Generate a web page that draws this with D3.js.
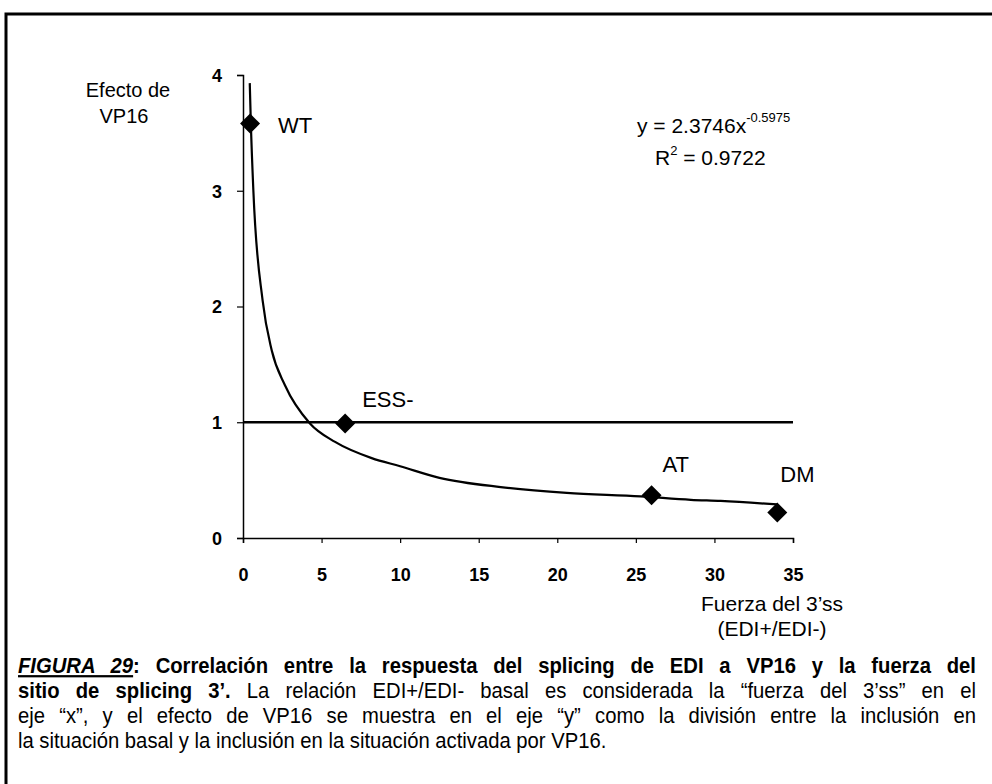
<!DOCTYPE html>
<html>
<head>
<meta charset="utf-8">
<script src="https://cdn.jsdelivr.net/npm/d3@7"></script>
<style>
  body { margin: 0; background: #fff; }
  svg { display: block; font-family: Arial, "Liberation Sans", sans-serif; }
</style>
</head>
<body>
<svg width="992" height="784"></svg>
<script>
// data
const pointNames = ["WT", "ESS-", "AT", "DM"];
const pointX = [0.45, 6.5, 26.0, 34.0];
const pointY = [3.58, 0.99, 0.37, 0.22];

// power trendline
const trendX = [0.43, 0.5, 0.66, 1.25, 1.83, 2.67, 4.26, 5.86, 8.19, 10.0, 12.5, 16.4, 20.6, 25.3, 28.5, 30.4, 34.0];
const trendY = [3.93, 3.58, 3.0, 2.05, 1.62, 1.32, 0.99, 0.83, 0.69, 0.62, 0.52, 0.44, 0.39, 0.36, 0.33, 0.32, 0.29];

// reference line y = 1
const refX = [0, 35];
const refY = [1, 1];

const xTicks = [0, 5, 10, 15, 20, 25, 30, 35];
const yTicks = [0, 1, 2, 3, 4];

const svg = d3.select("svg");

const x = d3.scaleLinear().domain([0, 35]).range([243, 793]);
const y = d3.scaleLinear().domain([0, 4]).range([538, 75]);

// outer frame (only top and left edges visible)
svg.append("path")
    .attr("d", "M6,800 V14 H1000")
    .attr("fill", "none")
    .attr("stroke", "#000")
    .attr("stroke-width", 3);

// axes
const xAxis = svg.append("g")
    .attr("transform", `translate(0,${y(0)})`)
    .call(d3.axisBottom(x).tickValues(xTicks).tickSize(5).tickPadding(25));
const yAxis = svg.append("g")
    .attr("transform", `translate(${x(0)},0)`)
    .call(d3.axisLeft(y).tickValues(yTicks).tickFormat(d3.format("d")).tickSize(6).tickPadding(15));

[xAxis, yAxis].forEach(a => {
    a.select(".domain").attr("stroke-width", 1.5);
    a.selectAll(".tick line").attr("stroke-width", 1.2);
    a.selectAll("text")
        .attr("font-family", "Arial, 'Liberation Sans', sans-serif")
        .style("font-size", "18px")
        .style("font-weight", "bold")
        .attr("fill", "#000");
});
yAxis.selectAll("text").attr("dy", "0.35em");

// y = 1 line
svg.append("path")
    .datum(refX.map((v, i) => [v, refY[i]]))
    .attr("fill", "none")
    .attr("stroke", "#000")
    .attr("stroke-width", 2.5)
    .attr("d", d3.line().x(d => x(d[0])).y(d => y(d[1])));

// trendline
svg.append("path")
    .datum(trendX.map((v, i) => [v, trendY[i]]))
    .attr("fill", "none")
    .attr("stroke", "#000")
    .attr("stroke-width", 2.2)
    .attr("d", d3.line().curve(d3.curveMonotoneX).x(d => x(d[0])).y(d => y(d[1])));

// markers
svg.selectAll(".pt")
    .data(pointX)
    .enter().append("path")
    .attr("class", "pt")
    .attr("d", d3.symbol(d3.symbolSquare, 200))
    .attr("transform", (d, i) => `translate(${x(d)},${y(pointY[i])}) rotate(45)`)
    .attr("fill", "#000");

// point labels (offsets as placed in the figure)
const labelDx = [28, 17, 11, 3];
const labelDy = [9, -16, -23, -31];
svg.selectAll(".lbl")
    .data(pointNames)
    .enter().append("text")
    .attr("class", "lbl")
    .attr("x", (d, i) => x(pointX[i]) + labelDx[i])
    .attr("y", (d, i) => y(pointY[i]) + labelDy[i])
    .style("font-size", "22px")
    .text(d => d);

// axis titles
const yTitle = svg.append("text")
    .attr("text-anchor", "middle")
    .style("font-size", "20px");
yTitle.append("tspan").attr("x", 128).attr("y", 97).text("Efecto de");
yTitle.append("tspan").attr("x", 124).attr("y", 123).text("VP16");

const xTitle = svg.append("text")
    .attr("text-anchor", "middle")
    .style("font-size", "21px");
xTitle.append("tspan").attr("x", 772).attr("y", 611).text("Fuerza del 3’ss");
xTitle.append("tspan").attr("x", 772).attr("y", 636).text("(EDI+/EDI-)");

// equation
const eq = svg.append("text")
    .attr("x", 637).attr("y", 133)
    .style("font-size", "21px");
eq.append("tspan").text("y = 2.3746x");
eq.append("tspan").attr("dy", -11).style("font-size", "13px").text("-0.5975");

const r2 = svg.append("text")
    .attr("x", 655).attr("y", 165)
    .style("font-size", "21px");
r2.append("tspan").text("R");
r2.append("tspan").attr("dy", -10).style("font-size", "13px").text("2");
r2.append("tspan").attr("dy", 10).text(" = 0.9722");

// caption: narrow-looking type, justified except the last line
const capLeft = 18, capRight = 976, capSx = 0.9;
const capLines = [
    [{t: "FIGURA 29", b: true, i: true, u: true}, {t: ": ", b: true}, {t: "Correlación entre la respuesta del splicing de EDI a VP16 y la fuerza del", b: true}],
    [{t: "sitio de splicing 3’.", b: true}, {t: " La relación EDI+/EDI- basal es considerada la “fuerza del 3’ss” en el"}],
    [{t: "eje “x”, y el efecto de VP16 se muestra en el eje “y” como la división entre la inclusión en"}],
    [{t: "la situación basal y la inclusión en la situación activada por VP16."}]
];
const capY = [673, 698, 723, 748];

const cap = svg.append("g")
    .attr("transform", `translate(${capLeft},0) scale(${capSx},1)`);

capLines.forEach((parts, li) => {
    const t = cap.append("text")
        .attr("x", 0)
        .attr("y", capY[li])
        .style("font-size", "22.5px");
    parts.forEach(p => {
        t.append("tspan")
            .style("font-weight", p.b ? "bold" : "normal")
            .style("font-style", p.i ? "italic" : "normal")
            .style("text-decoration", p.u ? "underline" : "none")
            .text(p.t);
    });
    if (li < 3) {
        const w = t.node().getComputedTextLength();
        const spaces = parts.map(p => p.t).join("").split(" ").length - 1;
        t.style("word-spacing", (((capRight - capLeft) / capSx - w) / spaces) + "px");
    }
});
</script>
</body>
</html>
